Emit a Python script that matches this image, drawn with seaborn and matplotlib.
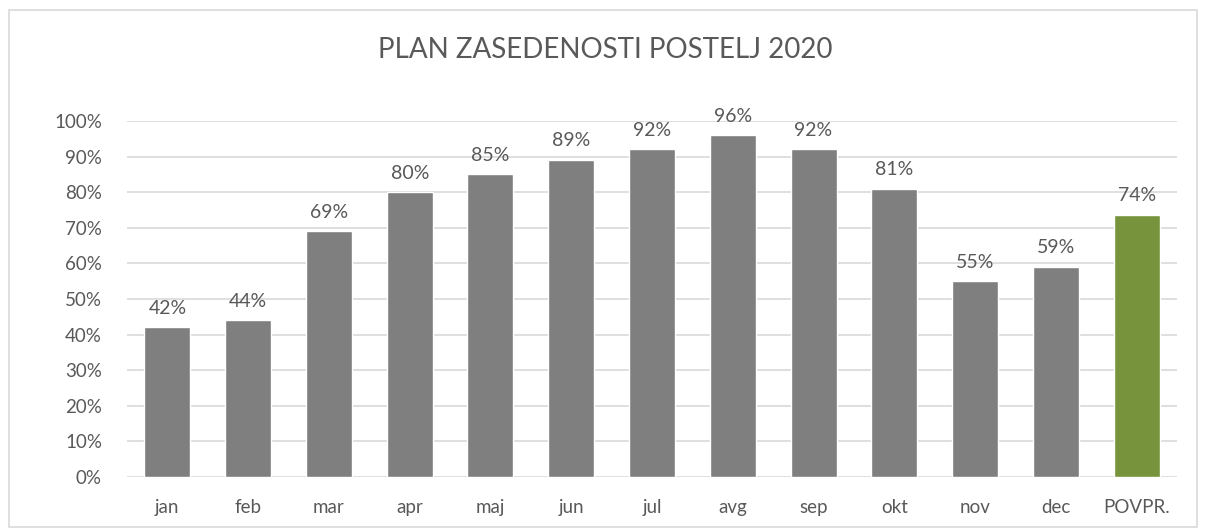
import matplotlib
matplotlib.use("Agg")
import matplotlib.pyplot as plt
import seaborn as sns
import pandas as pd
from matplotlib.patches import Rectangle

categories = ["jan", "feb", "mar", "apr", "maj", "jun", "jul", "avg", "sep", "okt", "nov", "dec", "POVPR."]
values = [0.42, 0.44, 0.69, 0.80, 0.85, 0.89, 0.92, 0.96, 0.92, 0.81, 0.55, 0.59, 0.737]
kinds = ["mesec"] * 12 + ["povprecje"]
yticks = [0, 0.1, 0.2, 0.3, 0.4, 0.5, 0.6, 0.7, 0.8, 0.9, 1.0]
ytick_labels = ["0%", "10%", "20%", "30%", "40%", "50%", "60%", "70%", "80%", "90%", "100%"]
title = "PLAN ZASEDENOSTI POSTELJ 2020"

sns.set_theme(style="white")
plt.rcParams['font.family'] = ['Lato', 'DejaVu Sans']

df = pd.DataFrame({"mesec": categories, "vrednost": values, "tip": kinds})

fig = plt.figure(figsize=(12.11, 5.29), dpi=100)
ax = fig.add_axes([127/1211, 1-477/529, (1177-127)/1211, (477-121)/529])

text_color = "#595959"
grid_color = "#D9D9D9"

sns.barplot(data=df, x="mesec", y="vrednost", hue="tip",
            palette={"mesec": "#7F7F7F", "povprecje": "#77933C"},
            width=0.57, dodge=False, legend=False, ax=ax, zorder=3, saturation=1)

ax.set_ylim(0, 1.0)
ax.set_xlim(-0.5, len(categories) - 0.5)
ax.set_yticks(yticks)
ax.set_yticklabels(ytick_labels)
ax.set_xlabel("")
ax.set_ylabel("")
for y in yticks:
    ax.axhline(y, color=grid_color, lw=1.2, zorder=1)
for s in ax.spines.values():
    s.set_visible(False)
ax.tick_params(axis="both", length=0, colors=text_color, labelsize=13.5)
ax.tick_params(axis="y", pad=18)
ax.tick_params(axis="x", pad=16)

for i, v in enumerate(values):
    ax.text(i, v + 0.03, f"{round(v*100):.0f}%", ha="center", va="bottom",
            color=text_color, fontsize=14)

fig.text(0.5, 1 - 50/529, title, ha="center", va="center", fontsize=20, color=text_color)

fig.patches.append(Rectangle((9/1211, 1 - 527/529), (1197-9)/1211, (527-10)/529,
                             transform=fig.transFigure, fill=False,
                             edgecolor="#D9D9D9", lw=1.2))

fig.savefig("out.png", dpi=100)
